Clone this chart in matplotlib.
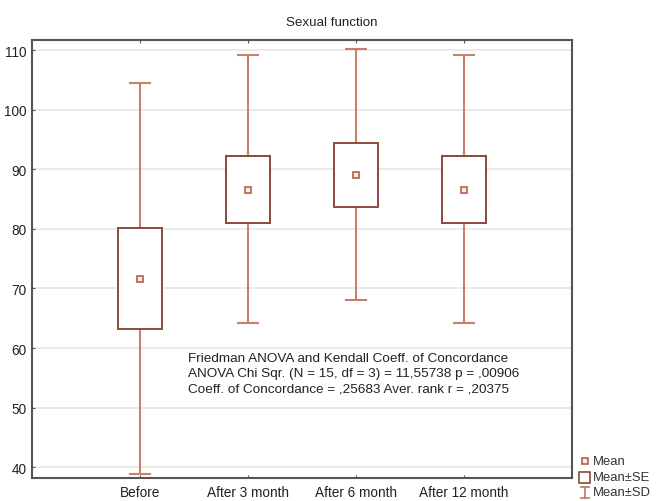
import matplotlib
matplotlib.use("Agg")
import matplotlib.pyplot as plt
from matplotlib.lines import Line2D
from matplotlib.patches import Rectangle

plt.rcParams['font.family'] = ['Liberation Sans', 'DejaVu Sans']

categories = ["Before", "After 3 month", "After 6 month", "After 12 month"]
means = [71.6, 86.6, 89.0, 86.6]
se_low = [63.2, 81.0, 83.6, 81.0]
se_high = [80.1, 92.3, 94.4, 92.3]
sd_low = [38.8, 64.2, 68.1, 64.2]
sd_high = [104.5, 109.1, 110.2, 109.1]
yticks = [40, 50, 60, 70, 80, 90, 100, 110]
stats_text = ("Friedman ANOVA and Kendall Coeff. of Concordance\n"
              "ANOVA Chi Sqr. (N = 15, df = 3) = 11,55738 p = ,00906\n"
              "Coeff. of Concordance = ,25683 Aver. rank r = ,20375")

whisk_c = "#c8806a"
box_c = "#8a4a3c"
mean_c = "#b5604a"
spine_c = "#555555"

fig = plt.figure(figsize=(6.67, 5.02), dpi=100)
ax = fig.add_axes([32/667, 1-479/502, 540/667, 438/502])

x = list(range(1, len(categories) + 1))
ax.vlines(x, sd_low, sd_high, color=whisk_c, lw=1.5, zorder=2)
ax.hlines(sd_low, [i - 0.1 for i in x], [i + 0.1 for i in x], color=whisk_c, lw=1.5, zorder=2)
ax.hlines(sd_high, [i - 0.1 for i in x], [i + 0.1 for i in x], color=whisk_c, lw=1.5, zorder=2)
heights = [h - l for h, l in zip(se_high, se_low)]
ax.bar(x, heights, bottom=se_low, width=0.4, facecolor="white", edgecolor=box_c, lw=1.4, zorder=3)
ax.plot(x, means, ls="none", marker="s", ms=4, mfc="#fbeee8", mec=mean_c, mew=1.2, zorder=4)

ax.set_xlim(0, 5)
ax.set_ylim(38.2, 111.7)
ax.set_yticks(yticks)
ax.set_xticks(x)
ax.set_xticklabels(categories, fontsize=9.8, color="#222222")
ax.tick_params(axis='y', labelsize=9.8, length=2, direction='in', pad=4, color=spine_c, labelcolor="#222222")
ax.tick_params(axis='x', length=2, direction='in', pad=5, top=True, color=spine_c)
ax.grid(axis='y', color="#e6e6e6", lw=1.2, zorder=0)
ax.set_axisbelow(True)
for s in ax.spines.values():
    s.set_color(spine_c)
    s.set_linewidth(1.5)

fig.text(332/667, 1-23/502, "Sexual function", fontsize=9.6, ha='center', va='center', color="#222222")

ax.text(188/667, 1-353/502, stats_text, transform=fig.transFigure, fontsize=9.7,
        va='top', ha='left', linespacing=1.36, color="#222222")

# legend drawn in figure coords
lx = 585/667
fig.add_artist(Line2D([lx], [1-462/502], marker='s', ms=4, mfc="#fbeee8", mec=mean_c, mew=1.2, ls='none', transform=fig.transFigure))
fig.add_artist(Rectangle((579/667, 1-484/502), 11/667, 11/502, facecolor='white', edgecolor=box_c, lw=1.2, transform=fig.transFigure))
fig.add_artist(Line2D([lx, lx], [1-499/502, 1-488/502], color=whisk_c, lw=1.3, transform=fig.transFigure))
fig.add_artist(Line2D([lx-4/667, lx+4/667], [1-488/502, 1-488/502], color=whisk_c, lw=1.3, transform=fig.transFigure))
fig.add_artist(Line2D([lx-4/667, lx+4/667], [1-499/502, 1-499/502], color=whisk_c, lw=1.3, transform=fig.transFigure))
for ty, lab in [(462, "Mean"), (478, "Mean±SE"), (493, "Mean±SD")]:
    fig.text(593/667, 1-ty/502, lab, fontsize=9.4, va='center', ha='left', color="#333333")

fig.savefig("out.png", dpi=100, facecolor='white')
